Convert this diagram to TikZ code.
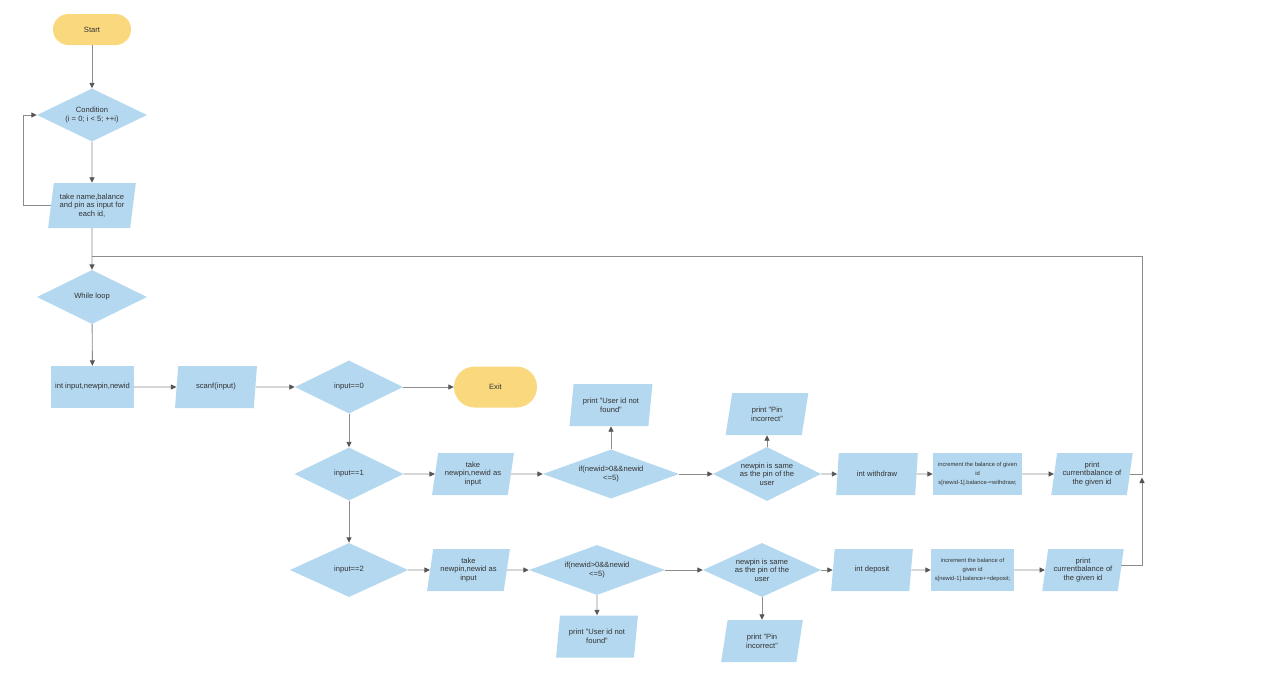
\documentclass[tikz,border=0pt]{standalone}
\usepackage{fontspec}
\setmainfont{Liberation Sans}
\usetikzlibrary{shapes.geometric,arrows.meta}
\definecolor{boxblue}{HTML}{B4D8EF}
\definecolor{termyel}{HTML}{F9D87E}
\definecolor{linec}{HTML}{8C8C8C}
\definecolor{tipc}{HTML}{555555}
\definecolor{txtc}{HTML}{333333}
\tikzset{
  base/.style={text=txtc, align=center, font=\fontsize{7.6}{8.7}\selectfont, inner sep=1pt},
  term/.style={base, fill=termyel, rectangle},
  proc/.style={base, fill=boxblue, rectangle, minimum width=83pt, minimum height=42pt},
  para/.style={base, fill=boxblue, trapezium, trapezium left angle=79, trapezium right angle=101,
               trapezium stretches=true, minimum width=82pt, minimum height=42pt},
  dia/.style={base, fill=boxblue, diamond, aspect=2, inner sep=0pt},
  small/.style={font=\fontsize{5.8}{8.6}\selectfont},
  conn/.style={draw=linec, line width=0.9pt},
  arr/.style={conn, -{Triangle[length=5.5pt, width=5pt, color=tipc]}}
}
\begin{document}
\begin{tikzpicture}[x=1pt, y=-1pt]
\useasboundingbox (0,0) rectangle (1280,673);
\fill[white] (0,0) rectangle (1280,673);

% left column
\node[term, minimum width=78pt, minimum height=31pt, rounded corners=15.5pt] (start) at (92,29.5) {Start};
\node[dia, minimum width=110pt, minimum height=53pt] (cond) at (92,115) {Condition\\(i = 0; i < 5; ++i)};
\node[para, minimum width=88pt, minimum height=45pt] (take) at (92,205.5) {take name,balance\\and pin as input for\\each id,};
\node[dia, minimum width=110pt, minimum height=54pt] (while) at (92,297) {While loop};
\node[proc, minimum width=83pt] (intin) at (92.5,387) {int input,newpin,newid};
\node[para] (scanf) at (216,387) {scanf(input)};
\node[dia, minimum width=108pt, minimum height=53pt] (in0) at (349,387) {input==0};
\node[term, minimum width=83pt, minimum height=41pt, rounded corners=20.5pt] (exit) at (495.5,387) {Exit};

% row 1
\node[dia, minimum width=109pt, minimum height=53pt] (in1) at (349,474) {input==1};
\node[para] (take1) at (473,474) {take\\newpin,newid as\\input};
\node[dia, minimum width=136pt, minimum height=49pt] (if1) at (611,474) {if(newid>0\&\&newid\\<=5)};
\node[para, minimum width=83pt] (uid1) at (611,405) {print "User id not\\found"};
\node[dia, minimum width=108pt, minimum height=54pt] (np1) at (767,474) {newpin is same\\as the pin of the\\user};
\node[para, minimum width=83pt] (pin1) at (767,414) {print "Pin\\incorrect"};
\node[para] (wd) at (877,474) {int withdraw};
\node[proc, minimum width=89pt, small] (inc1) at (977.5,474) {increment the balance of given\\id\\s[newid-1].balance-=withdraw;};
\node[para] (pr1) at (1092,474) {print\\currentbalance of\\the given id};

% row 2
\node[dia, minimum width=118pt, minimum height=54pt] (in2) at (349,570) {input==2};
\node[para, minimum width=83pt] (take2) at (468.5,570) {take\\newpin,newid as\\input};
\node[dia, minimum width=136pt, minimum height=50pt] (if2) at (597,570) {if(newid>0\&\&newid\\<=5)};
\node[para] (uid2) at (597,636.5) {print "User id not\\found"};
\node[dia, minimum width=118pt, minimum height=54pt] (np2) at (762,570) {newpin is same\\as the pin of the\\user};
\node[para] (pin2) at (762,641) {print "Pin\\incorrect"};
\node[para] (dep) at (872,570) {int deposit};
\node[proc, minimum width=83pt, small] (inc2) at (972.5,570) {increment the balance of\\given id\\s[newid-1].balance+=deposit;};
\node[para] (pr2) at (1083,570) {print\\currentbalance of\\the given id};

% helper coordinates
\coordinate (loopx) at (23,0);
\coordinate (rtop) at (1142,256);
\coordinate (ltop) at (92,256);
\coordinate (rjoin) at (1142,477.5);

% connectors: left column
\draw[arr] (start) -- (cond);
\draw[arr] (cond) -- (take);
\draw[arr] (take.west) -- (take.west -| loopx) |- (cond.west);
\draw[arr] (take) -- (while);
\draw[arr] (while) -- (intin);
\draw[arr] (intin) -- (scanf);
\draw[arr] (scanf) -- (in0);
\draw[arr] (in0) -- (exit);
\draw[arr] (in0) -- (in1);
\draw[arr] (in1) -- (in2);

% row 1
\draw[arr] (in1) -- (take1);
\draw[arr] (take1) -- (if1);
\draw[arr] (if1) -- (uid1);
\draw[arr] (if1) -- (np1);
\draw[arr] (np1) -- (pin1);
\draw[arr] (np1) -- (wd);
\draw[arr] (wd) -- (inc1);
\draw[arr] (inc1) -- (pr1);
\draw[conn] (pr1.east) -- (pr1.east -| rtop) -- (rtop) -- (ltop);

% row 2
\draw[arr] (in2) -- (take2);
\draw[arr] (take2) -- (if2);
\draw[arr] (if2) -- (uid2);
\draw[arr] (if2) -- (np2);
\draw[arr] (np2) -- (pin2);
\draw[arr] (np2) -- (dep);
\draw[arr] (dep) -- (inc2);
\draw[arr] (inc2) -- (pr2);
\draw[arr] ([yshift=5pt]pr2.east) -- ([yshift=5pt]pr2.east -| rjoin) -- (rjoin);
\end{tikzpicture}
\end{document}
